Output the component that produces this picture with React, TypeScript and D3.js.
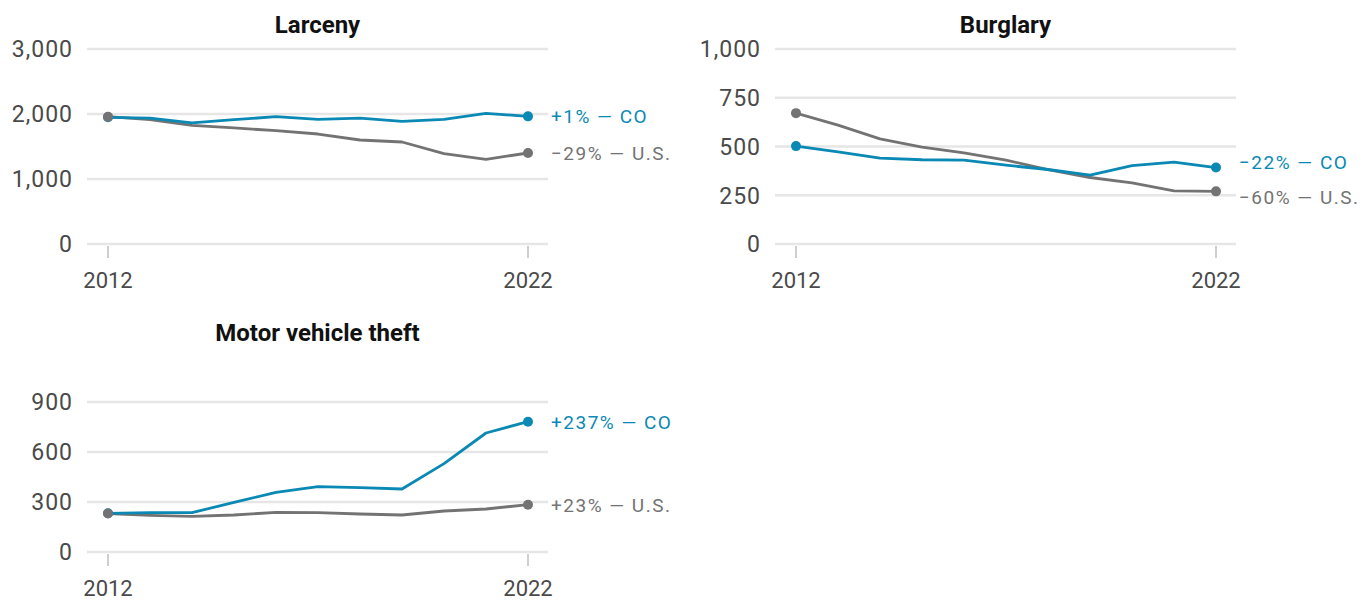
import React, { useRef, useEffect } from 'react';
import * as d3 from 'd3';

// data, rates per 100k
const years = [2012, 2013, 2014, 2015, 2016, 2017, 2018, 2019, 2020, 2021, 2022];

const larcenyCO = [1949, 1938, 1862, 1913, 1959, 1918, 1938, 1887, 1918, 2010, 1964];
const larcenyUS = [1959, 1913, 1826, 1785, 1744, 1692, 1600, 1569, 1390, 1303, 1400];

const burglaryCO = [502, 473, 440, 432, 430, 404, 382, 353, 402, 420, 392];
const burglaryUS = [671, 610, 539, 497, 467, 430, 382, 341, 313, 272, 270];

const mvtCO = [232, 236, 236, 298, 358, 392, 386, 378, 530, 714, 782];
const mvtUS = [231, 220, 214, 222, 238, 236, 228, 222, 246, 258, 284];

const titles = ['Larceny', 'Burglary', 'Motor vehicle theft'];
const yTicks = [[0, 1000, 2000, 3000], [0, 250, 500, 750, 1000], [0, 300, 600, 900]];
const yMax = [3000, 1000, 1170];
const xTicks = [2012, 2022];

const BLUE = '#0a89b5';
const GRAY = '#737373';
const FONT = 'Roboto, "Noto Sans", sans-serif';

type D3Selection = d3.Selection<SVGSVGElement, unknown, null, undefined>;

function panel(svg: D3Selection, i: number, ox: number, oy: number, co: number[], us: number[]) {
  const g = svg.append('g').attr('transform', `translate(${ox},${oy})`);

  const x = d3.scaleLinear().domain([2012, 2022]).range([108, 528]);
  const y = d3.scaleLinear().domain([0, yMax[i]]).range([244, 49]);

  // title
  g.append('text')
    .attr('x', 317.5)
    .attr('y', 33)
    .attr('text-anchor', 'middle')
    .attr('font-family', FONT)
    .attr('font-size', 24)
    .attr('font-weight', 700)
    .attr('fill', '#111')
    .text(titles[i]);

  // grid
  const grid = g.append('g');
  grid.selectAll('line')
    .data(yTicks[i])
    .join('line')
    .attr('x1', 87)
    .attr('x2', 548)
    .attr('y1', d => y(d))
    .attr('y2', d => y(d))
    .attr('stroke', '#e6e6e6')
    .attr('stroke-width', 2.5);

  grid.selectAll('text')
    .data(yTicks[i])
    .join('text')
    .attr('x', 73)
    .attr('y', d => y(d))
    .attr('dy', '0.36em')
    .attr('text-anchor', 'end')
    .attr('font-family', FONT)
    .attr('font-size', 23)
    .attr('letter-spacing', 1)
    .attr('fill', '#4a4a4a')
    .text(d => d3.format(',')(d));

  // x ticks
  const xt = g.append('g');
  xt.selectAll('line')
    .data(xTicks)
    .join('line')
    .attr('x1', d => x(d))
    .attr('x2', d => x(d))
    .attr('y1', 246)
    .attr('y2', 258)
    .attr('stroke', '#cfcfcf')
    .attr('stroke-width', 2);
  xt.selectAll('text')
    .data(xTicks)
    .join('text')
    .attr('x', d => x(d))
    .attr('y', 288)
    .attr('text-anchor', 'middle')
    .attr('font-family', FONT)
    .attr('font-size', 22)
    .attr('fill', '#4a4a4a')
    .text(d => d);

  const line = d3.line<number>()
    .x((d, j) => x(years[j]))
    .y(d => y(d));

  const series = [
    { vals: us, color: GRAY, name: 'U.S.' },
    { vals: co, color: BLUE, name: 'CO' },
  ];

  series.forEach(s => {
    g.append('path')
      .datum(s.vals)
      .attr('d', line)
      .attr('fill', 'none')
      .attr('stroke', s.color)
      .attr('stroke-width', 2.8)
      .attr('stroke-linejoin', 'round');
  });

  [series[1], series[0]].forEach(s => {
    const last = s.vals.length - 1;
    g.selectAll(null)
      .data([0, last])
      .join('circle')
      .attr('cx', j => x(years[j]))
      .attr('cy', j => y(s.vals[j]))
      .attr('r', 5)
      .attr('fill', s.color);
  });

  // end labels, pushed apart when too close
  const last = years.length - 1;
  let yCO = y(co[last]);
  let yUS = y(us[last]);
  const gap = 35;
  if (Math.abs(yCO - yUS) < gap) {
    const mid = (yCO + yUS) / 2;
    const sgn = yCO <= yUS ? 1 : -1;
    yCO = mid - sgn * gap / 2;
    yUS = mid + sgn * gap / 2;
  }
  const pct = (v: number[]) => {
    const p = Math.round((v[last] / v[0] - 1) * 100);
    return (p >= 0 ? '+' : '\u2212') + Math.abs(p) + '%';
  };
  const labels = [
    { ty: yCO, text: `${pct(co)} \u2014 CO`, color: BLUE },
    { ty: yUS, text: `${pct(us)} \u2014 U.S.`, color: GRAY },
  ];
  g.append('g')
    .selectAll('text')
    .data(labels)
    .join('text')
    .attr('x', x(2022) + 23)
    .attr('y', d => d.ty)
    .attr('dy', '0.36em')
    .attr('font-family', FONT)
    .attr('font-size', 19)
    .attr('letter-spacing', 1.5)
    .attr('fill', d => d.color)
    .text(d => d.text);
}

export default function App() {
  const ref = useRef<SVGSVGElement>(null);

  useEffect(() => {
    if (!ref.current) return;
    const svg = d3.select(ref.current);
    svg.selectAll('*').remove();

    svg.append('rect').attr('width', 1366).attr('height', 600).attr('fill', '#fff');

    panel(svg, 0, 0, 0, larcenyCO, larcenyUS);
    panel(svg, 1, 688, 0, burglaryCO, burglaryUS);
    panel(svg, 2, 0, 308, mvtCO, mvtUS);
  }, []);

  return (
    <svg
      ref={ref}
      width={1366}
      height={600}
      style={{ position: 'absolute', left: 0, top: 0 }}
    />
  );
}
